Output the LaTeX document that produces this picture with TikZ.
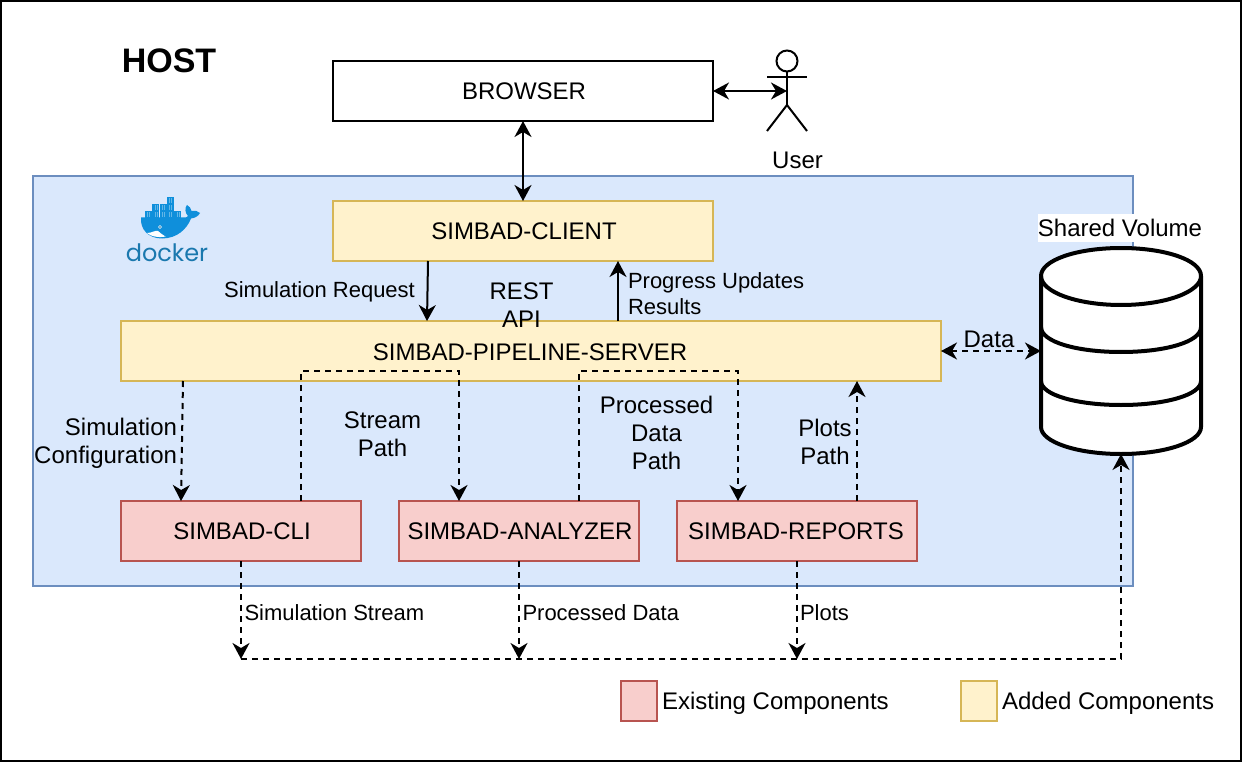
\documentclass[tikz,border=0pt]{standalone}
\usepackage{fontspec}
\setmainfont{Liberation Sans}
\newfontfamily\dockerfont{Poppins}
\usetikzlibrary{arrows.meta,calc}
\definecolor{dockfill}{HTML}{DAE8FC}
\definecolor{dockline}{HTML}{6C8EBF}
\definecolor{yelfill}{HTML}{FFF2CC}
\definecolor{yelline}{HTML}{D6B656}
\definecolor{redfill}{HTML}{F8CECC}
\definecolor{redline}{HTML}{B85450}
\definecolor{whale}{HTML}{0F8FDB}
\definecolor{whaletxt}{HTML}{1A78AE}
\tikzset{
  x=1pt,y=-1pt,
  box/.style={rectangle,inner sep=0pt,outer sep=0pt,line width=2pt,font=\fontsize{24}{28}\selectfont,align=center},
  plainbox/.style={box,draw=black,fill=white},
  addedbox/.style={box,draw=yelline,fill=yelfill},
  existbox/.style={box,draw=redline,fill=redfill},
  lbl/.style={inner sep=0pt,outer sep=0pt,font=\fontsize{24}{28}\selectfont,align=center},
  smalllbl/.style={inner sep=0pt,outer sep=0pt,font=\fontsize{22}{26}\selectfont,align=left},
  conn/.style={line width=2pt,-{Stealth[length=16pt,width=17pt,inset=5pt]}},
  bidir/.style={line width=2pt,{Stealth[length=16pt,width=17pt,inset=5pt]}-{Stealth[length=16pt,width=17pt,inset=5pt]}},
  dashline/.style={dash pattern=on 6pt off 5pt},
}
\begin{document}
\begin{tikzpicture}
\useasboundingbox (0,0) rectangle (1242,762);
% frames
\node[plainbox,minimum width=1240pt,minimum height=760pt] (host) at (621,381) {};
\node[box,draw=dockline,fill=dockfill,minimum width=1100pt,minimum height=410pt] (dockerzone) at (583,381) {};
% boxes
\node[plainbox,minimum width=380pt,minimum height=60pt] (browser) at (523,91) {};
\node[addedbox,minimum width=380pt,minimum height=60pt] (client) at (523,231) {};
\node[addedbox,minimum width=820pt,minimum height=60pt] (server) at (531,351) {};
\node[existbox,minimum width=240pt,minimum height=60pt] (cli) at (241,531) {};
\node[existbox,minimum width=240pt,minimum height=60pt] (analyzer) at (519,531) {};
\node[existbox,minimum width=240pt,minimum height=60pt] (reports) at (797,531) {};
\node[box] (browsertxt) at (524,91) {BROWSER};
\node[box] (clienttxt) at (524,231.5) {SIMBAD-CLIENT};
\node[box] (clitxt) at (242,531.5) {SIMBAD-CLI};
\node[box] (analyzertxt) at (520,531.5) {SIMBAD-ANALYZER};
\node[box] (reportstxt) at (796,531.5) {SIMBAD-REPORTS};
\node[existbox,minimum width=36pt,minimum height=40pt] (legred) at (639,701) {};
\node[addedbox,minimum width=36pt,minimum height=40pt] (legyel) at (979,701) {};
% cylinder
\begin{scope}[line width=4pt,line join=round]
\draw[fill=white] (1041,276) .. controls (1041,260) and (1077,248) .. (1121,248) .. controls (1165,248) and (1201,260) .. (1201,276) -- (1201,427) .. controls (1201,442) and (1165,454) .. (1121,454) .. controls (1077,454) and (1041,442) .. (1041,427) -- cycle;
\draw (1041,276) .. controls (1041,292) and (1077,305) .. (1121,305) .. controls (1165,305) and (1201,292) .. (1201,276);
\draw (1041,327) .. controls (1041,342) and (1077,352) .. (1121,352) .. controls (1165,352) and (1201,342) .. (1201,327);
\draw (1041,381) .. controls (1041,395) and (1077,405) .. (1121,405) .. controls (1165,405) and (1201,395) .. (1201,381);
\end{scope}
\coordinate (dbleft) at (1041,351);
\coordinate (dbbottom) at (1121,454);
\node[lbl,fill=white,minimum width=164pt,minimum height=28pt] (dblabel) at (1120,228) {Shared Volume};
% stick figure
\begin{scope}[line width=2pt]
\draw (787,61) circle (10.5);
\draw (787,71.5) -- (787,105);
\draw (767,77) -- (807,77);
\draw (767,131) -- (787,105) -- (807,131);
\end{scope}
\coordinate (userhand) at (787,91);
% docker logo
\begin{scope}
\fill[whale] (141,217.5) -- (185,217.5) .. controls (186,217.5) and (187.5,217) .. (188,216)
 .. controls (185,213) and (184.5,208) .. (187,205)
 .. controls (189.5,206) and (191,208.5) .. (191.5,211)
 .. controls (194.5,210) and (198,211) .. (200,213)
 .. controls (198,216.5) and (195,218) .. (191,218.5)
 .. controls (187,229) and (177,238.5) .. (162,238.5)
 .. controls (148,238.5) and (140,229) .. (141,217.5) -- cycle;
\fill[white] (147,233) .. controls (152,233) and (155,230) .. (158,231) .. controls (160,233) and (163,235) .. (165.5,236.5) .. controls (158,238) and (151,236.5) .. (147,233) -- cycle;
\fill[white] (160,227) circle (1.8);
\fill[whale!70!black] (160,227) circle (0.9);
\foreach \cx/\cy in {145/211,152.4/211,159.7/211,167/211,174.4/211,152.4/204,159.7/204,167/204,167/197}{
  \fill[whale] (\cx,\cy) rectangle ++(7,6.8);
  \draw[white,line width=0.4pt,opacity=.35] (\cx+2.3,\cy+1) -- ++(0,4.8) (\cx+4.6,\cy+1) -- ++(0,4.8);
}
\end{scope}
\node[inner sep=0pt,outer sep=0pt,text=whaletxt,font=\dockerfont\fontsize{24}{28}\selectfont] (dockertext) at (167,252.5) {docker};
% server label
\node[box] (servertext) at (530,352) {SIMBAD-PIPELINE-SERVER};
% connectors
\draw[bidir] (browser.east) -- (userhand);
\draw[bidir] (browser.south) -- (client.north);
\draw[conn] ([xshift=-95pt]client.south) -- ([xshift=-104pt]server.north);
\draw[conn] ([xshift=87pt]server.north) -- ([xshift=95pt]client.south);
\draw[conn,dashline] ([xshift=-348pt]server.south) -- ([xshift=-60pt]cli.north);
\draw[conn,dashline] ([xshift=60pt]cli.north) -- ++(0,-130) -| ([xshift=-60pt]analyzer.north);
\draw[conn,dashline] ([xshift=60pt]analyzer.north) -- ++(0,-130) -| ([xshift=-59pt]reports.north);
\draw[conn,dashline] ([xshift=60pt]reports.north) -- ([xshift=326pt]server.south);
\draw[bidir,dashline] (server.east) -- (dbleft);
\coordinate (busA) at (241,659);
\coordinate (busB) at (519,659);
\coordinate (busC) at (797,659);
\coordinate (busD) at (1121,659);
\draw[conn,dashline] (cli.south) -- (busA);
\draw[conn,dashline] (analyzer.south) -- (busB);
\draw[conn,dashline] (reports.south) -- (busC);
\draw[conn,dashline] (busA) -- (busD) -- (dbbottom);
% labels
\node[inner sep=0pt,outer sep=0pt,font=\bfseries\fontsize{34}{38}\selectfont] (hosttxt) at (169,60.5) {HOST};
\node[lbl] (usertxt) at (797.5,160) {User};
\node[smalllbl] (simreq) at (319.5,292) {Simulation Request};
\node[smalllbl,anchor=west] (progress) at (628,293.5) {Progress Updates\\Results};
\node[lbl] (rest) at (521.5,305) {REST\\API};
\node[lbl] (datatxt) at (989,339) {Data};
\node[lbl,anchor=east,align=right] (simcfg) at (177,443.5) {Simulation\\Configuration};
\node[lbl] (stream) at (382.5,434) {Stream\\Path};
\node[lbl] (procpath) at (656.5,433) {Processed\\Data\\Path};
\node[lbl] (plotspath) at (825,442) {Plots\\Path};
\node[smalllbl,anchor=west] (simstream) at (244.5,612.5) {Simulation Stream};
\node[smalllbl,anchor=west] (procdata) at (522.5,612.5) {Processed Data};
\node[smalllbl,anchor=west] (plotstxt) at (800,612.5) {Plots};
\node[lbl,anchor=west] (exist) at (662,703.5) {Existing Components};
\node[lbl,anchor=west] (added) at (1002,703.5) {Added Components};
\end{tikzpicture}
\end{document}
